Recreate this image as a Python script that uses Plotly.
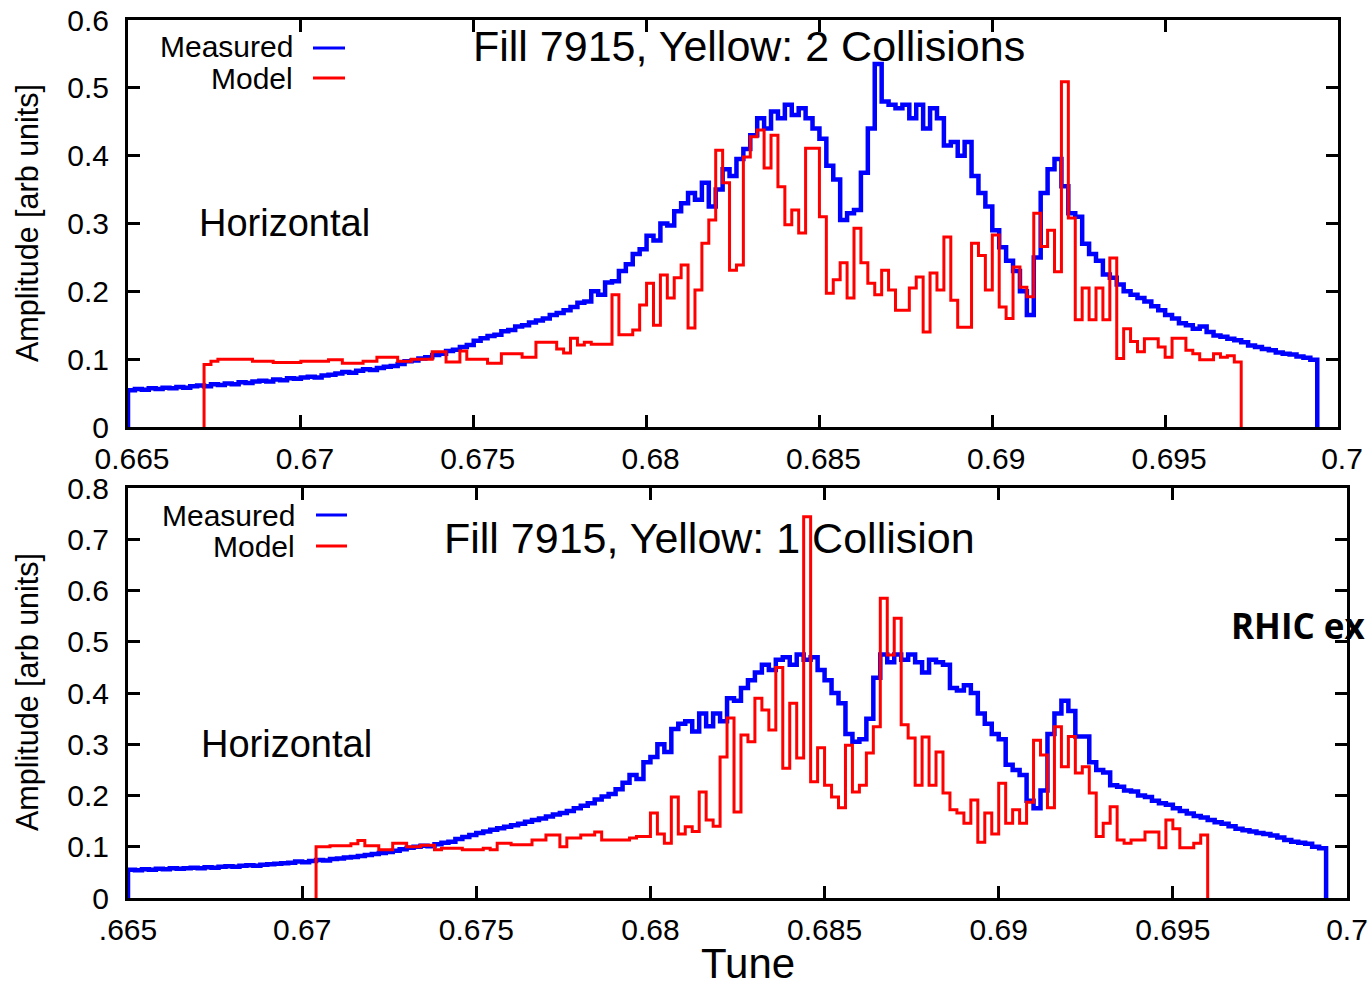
import plotly.graph_objects as go

# ---------------- data ----------------
BIN_WIDTH = 0.0002
TUNE_RANGE = [0.665, 0.7]

top_measured_start = 0.665
top_measured = [
    0.054, 0.056, 0.055, 0.057, 0.056, 0.058, 0.057, 0.059, 0.058, 0.060,
    0.061, 0.060, 0.063, 0.062, 0.064, 0.063, 0.066, 0.065, 0.067, 0.068,
    0.067, 0.070, 0.069, 0.072, 0.071, 0.073, 0.074, 0.073, 0.076, 0.077,
    0.079, 0.081, 0.080, 0.083, 0.085, 0.084, 0.087, 0.089, 0.090, 0.093,
    0.097, 0.098, 0.101, 0.103, 0.106, 0.108, 0.112, 0.114, 0.118, 0.121,
    0.127, 0.131, 0.134, 0.136, 0.141, 0.143, 0.148, 0.150, 0.154, 0.157,
    0.160, 0.165, 0.168, 0.172, 0.177, 0.183, 0.185, 0.200, 0.195, 0.213,
    0.215, 0.230, 0.240, 0.255, 0.262, 0.282, 0.275, 0.300, 0.297, 0.318,
    0.330, 0.345, 0.335, 0.360, 0.325, 0.350, 0.380, 0.370, 0.395, 0.410,
    0.430, 0.455, 0.440, 0.465, 0.455, 0.475, 0.460, 0.470, 0.455, 0.440,
    0.425, 0.385, 0.365, 0.305, 0.315, 0.320, 0.375, 0.440, 0.535, 0.480,
    0.475, 0.470, 0.475, 0.455, 0.475, 0.440, 0.470, 0.455, 0.415, 0.420,
    0.400, 0.420, 0.370, 0.345, 0.325, 0.290, 0.265, 0.245, 0.230, 0.200,
    0.165, 0.250, 0.345, 0.380, 0.395, 0.355, 0.315, 0.310, 0.270, 0.255,
    0.245, 0.225, 0.220, 0.210, 0.200, 0.195, 0.190, 0.185, 0.178, 0.172,
    0.165, 0.160, 0.153, 0.150, 0.145, 0.148, 0.140, 0.135, 0.133, 0.130,
    0.128, 0.125, 0.120, 0.118, 0.115, 0.113, 0.110, 0.108, 0.107, 0.104,
    0.102, 0.099,
]

top_model_start = 0.6672
top_model = [
    0.092, 0.097, 0.100, 0.100, 0.100, 0.100, 0.100, 0.097, 0.097, 0.097,
    0.095, 0.095, 0.095, 0.095, 0.097, 0.097, 0.097, 0.097, 0.099, 0.099,
    0.094, 0.094, 0.094, 0.097, 0.097, 0.103, 0.103, 0.103, 0.097, 0.097,
    0.100, 0.100, 0.100, 0.111, 0.111, 0.096, 0.096, 0.112, 0.100, 0.100,
    0.100, 0.094, 0.094, 0.108, 0.108, 0.108, 0.103, 0.103, 0.125, 0.125,
    0.125, 0.115, 0.109, 0.131, 0.121, 0.125, 0.122, 0.122, 0.122, 0.195,
    0.136, 0.136, 0.143, 0.180, 0.212, 0.150, 0.224, 0.190, 0.220, 0.239,
    0.146, 0.202, 0.271, 0.305, 0.408, 0.360, 0.231, 0.239, 0.398, 0.428,
    0.438, 0.382, 0.430, 0.354, 0.298, 0.320, 0.286, 0.411, 0.411, 0.310,
    0.197, 0.217, 0.242, 0.190, 0.293, 0.242, 0.212, 0.195, 0.231, 0.202,
    0.172, 0.172, 0.205, 0.221, 0.140, 0.227, 0.202, 0.280, 0.187, 0.147,
    0.147, 0.271, 0.253, 0.202, 0.283, 0.177, 0.160, 0.236, 0.206, 0.192,
    0.315, 0.266, 0.290, 0.229, 0.509, 0.308, 0.158, 0.205, 0.158, 0.205,
    0.158, 0.249, 0.101, 0.145, 0.126, 0.111, 0.130, 0.130, 0.118, 0.103,
    0.131, 0.131, 0.113, 0.108, 0.099, 0.099, 0.108, 0.103, 0.105, 0.096,
]

bottom_measured_start = 0.665
bottom_measured = [
    0.055, 0.054, 0.056, 0.055, 0.057, 0.056, 0.058, 0.057, 0.058, 0.059,
    0.058, 0.060, 0.059, 0.061, 0.062, 0.061, 0.063, 0.064, 0.063, 0.065,
    0.066, 0.067, 0.068, 0.069, 0.071, 0.070, 0.072, 0.074, 0.073, 0.076,
    0.077, 0.079, 0.080, 0.082, 0.084, 0.086, 0.088, 0.090, 0.092, 0.095,
    0.098, 0.100, 0.102, 0.101, 0.105, 0.108, 0.110, 0.115, 0.119, 0.123,
    0.127, 0.130, 0.133, 0.136, 0.139, 0.142, 0.145, 0.149, 0.152, 0.155,
    0.159, 0.163, 0.166, 0.170, 0.175, 0.180, 0.185, 0.192, 0.198, 0.203,
    0.212, 0.225, 0.240, 0.232, 0.265, 0.275, 0.300, 0.285, 0.330, 0.340,
    0.345, 0.325, 0.360, 0.335, 0.360, 0.345, 0.390, 0.385, 0.410, 0.425,
    0.440, 0.455, 0.445, 0.465, 0.470, 0.455, 0.475, 0.465, 0.470, 0.445,
    0.425, 0.400, 0.380, 0.320, 0.305, 0.310, 0.350, 0.430, 0.475, 0.460,
    0.475, 0.465, 0.475, 0.460, 0.440, 0.465, 0.460, 0.455, 0.410, 0.405,
    0.415, 0.400, 0.360, 0.340, 0.320, 0.310, 0.260, 0.250, 0.240, 0.190,
    0.175, 0.210, 0.320, 0.360, 0.385, 0.365, 0.315, 0.315, 0.265, 0.250,
    0.245, 0.220, 0.217, 0.210, 0.208, 0.200, 0.197, 0.190, 0.185, 0.182,
    0.175, 0.170, 0.165, 0.160, 0.157, 0.152, 0.148, 0.145, 0.140, 0.135,
    0.132, 0.130, 0.127, 0.125, 0.122, 0.118, 0.113, 0.110, 0.108, 0.106,
    0.100, 0.097,
]

bottom_model_start = 0.6704
bottom_model = [
    0.100, 0.100, 0.102, 0.102, 0.102, 0.106, 0.112, 0.102, 0.102, 0.094,
    0.094, 0.107, 0.107, 0.100, 0.100, 0.103, 0.103, 0.094, 0.097, 0.097,
    0.097, 0.094, 0.094, 0.094, 0.097, 0.094, 0.107, 0.107, 0.104, 0.104,
    0.104, 0.113, 0.113, 0.123, 0.123, 0.100, 0.117, 0.117, 0.123, 0.123,
    0.129, 0.113, 0.113, 0.113, 0.113, 0.117, 0.120, 0.120,
    0.166, 0.125, 0.107, 0.197, 0.125, 0.139, 0.130, 0.207, 0.152, 0.140,
    0.275, 0.351, 0.168, 0.318, 0.305, 0.390, 0.367, 0.328, 0.450, 0.253,
    0.380, 0.273, 0.744, 0.227, 0.293, 0.220, 0.197, 0.176, 0.298, 0.207,
    0.220, 0.283, 0.334, 0.585, 0.474, 0.546,
    0.338, 0.312, 0.220, 0.314, 0.220, 0.285, 0.205, 0.172, 0.166, 0.146,
    0.191, 0.109, 0.166, 0.125, 0.224, 0.146, 0.172, 0.146, 0.187, 0.308,
    0.279, 0.176, 0.334, 0.256, 0.315, 0.244, 0.256, 0.205, 0.120, 0.146,
    0.178, 0.113, 0.107, 0.113, 0.113, 0.129, 0.129, 0.098, 0.152, 0.135,
    0.098, 0.098, 0.107, 0.123,
]

top_y_ticks = [0, 0.1, 0.2, 0.3, 0.4, 0.5, 0.6]
top_y_labels = ["0", "0.1", "0.2", "0.3", "0.4", "0.5", "0.6"]
bottom_y_ticks = [0, 0.1, 0.2, 0.3, 0.4, 0.5, 0.6, 0.7, 0.8]
bottom_y_labels = ["0", "0.1", "0.2", "0.3", "0.4", "0.5", "0.6", "0.7", "0.8"]
x_ticks = [0.665, 0.67, 0.675, 0.68, 0.685, 0.69, 0.695, 0.7]
top_x_labels = ["0.665", "0.67", "0.675", "0.68", "0.685", "0.69", "0.695", "0.7"]
bottom_x_labels = [".665", "0.67", "0.675", "0.68", "0.685", "0.69", "0.695", "0.7"]

BLUE = "#0000ff"
RED = "#ff0000"
FONT = "Liberation Sans, Arial, Helvetica, sans-serif"
W, H = 1368, 988


def step_xy(start, vals, width=BIN_WIDTH):
    edges = [start + k * width for k in range(len(vals) + 1)]
    xs = [edges[0]] + edges[:-1] + [edges[-1], edges[-1]]
    ys = [0.0] + list(vals) + [vals[-1], 0.0]
    return xs, ys


def px(x):
    return x / W


def py(y):
    return 1 - y / H


fig = go.Figure()

for start, vals, color, width, name, xa, ya in [
    (top_measured_start, top_measured, BLUE, 4.5, "Measured", "x", "y"),
    (top_model_start, top_model, RED, 3, "Model", "x", "y"),
    (bottom_measured_start, bottom_measured, BLUE, 4.5, "Measured", "x2", "y2"),
    (bottom_model_start, bottom_model, RED, 3, "Model", "x2", "y2"),
]:
    xs, ys = step_xy(start, vals)
    fig.add_trace(go.Scatter(x=xs, y=ys, mode="lines", name=name,
                             line=dict(color=color, width=width, shape="hv"),
                             xaxis=xa, yaxis=ya, showlegend=False))

axis_common = dict(showline=True, linecolor="black", linewidth=3, mirror="ticks",
                   ticks="inside", ticklen=12, tickwidth=2.5, tickcolor="black",
                   showgrid=False, zeroline=False, automargin=False,
                   tickfont=dict(family=FONT, size=30, color="black"))

fig.update_layout(
    width=W, height=H,
    margin=dict(l=0, r=0, t=0, b=0, pad=0, autoexpand=False),
    paper_bgcolor="white", plot_bgcolor="white",
    xaxis=dict(domain=[px(128), px(1338)], range=TUNE_RANGE, anchor="y",
               tickvals=x_ticks, ticktext=top_x_labels, ticklabelstandoff=3,
               ticklabelshift=4, **axis_common),
    yaxis=dict(domain=[py(427), py(20)], range=[0, 0.6], anchor="x",
               tickvals=top_y_ticks, ticktext=top_y_labels, ticklabelstandoff=10,
               **axis_common),
    xaxis2=dict(domain=[px(128), px(1347)], range=TUNE_RANGE, anchor="y2",
                tickvals=x_ticks, ticktext=bottom_x_labels, ticklabelstandoff=3,
                **axis_common),
    yaxis2=dict(domain=[py(898), py(488)], range=[0, 0.8], anchor="x2",
                tickvals=bottom_y_ticks, ticktext=bottom_y_labels, ticklabelstandoff=10,
                **axis_common),
)

ann = []


def text(t, x, y, size, xanchor="center", angle=0, family=FONT, bold=False):
    ann.append(dict(text=("<b>%s</b>" % t) if bold else t, x=px(x), y=py(y),
                    xref="paper", yref="paper", xanchor=xanchor, yanchor="middle",
                    showarrow=False, textangle=angle,
                    font=dict(family=family, size=size, color="black")))


# titles
text("Fill 7915, Yellow: 2 Collisions", 749, 46, 43)
text("Fill 7915, Yellow: 1 Collision", 709, 538, 43)
text("Horizontal", 284, 223, 38)
text("Horizontal", 286, 744, 38)
# axis titles
text("Amplitude [arb units]", 27, 223, 30.5, angle=-90)
text("Amplitude [arb units]", 27, 692, 30.5, angle=-90)
text("Tune", 748, 963, 42)
# slide text at the right edge
text("RHIC ex", 1229, 625, 35, xanchor="left", family="Open Sans, Noto Sans, sans-serif", bold=True)

# keys
text("Measured", 295, 47, 30, xanchor="right")
text("Model", 295, 78, 30, xanchor="right")
text("Measured", 297, 515, 30, xanchor="right")
text("Model", 297, 546, 30, xanchor="right")

shapes = []
for x0, x1, yy, c in [(313, 345, 48, BLUE), (313, 345, 78, RED),
                      (316, 347, 515, BLUE), (316, 347, 546, RED)]:
    shapes.append(dict(type="line", xref="paper", yref="paper",
                       x0=px(x0), x1=px(x1), y0=py(yy), y1=py(yy),
                       line=dict(color=c, width=3)))

fig.update_layout(annotations=ann, shapes=shapes)
fig.write_html("out.html")
